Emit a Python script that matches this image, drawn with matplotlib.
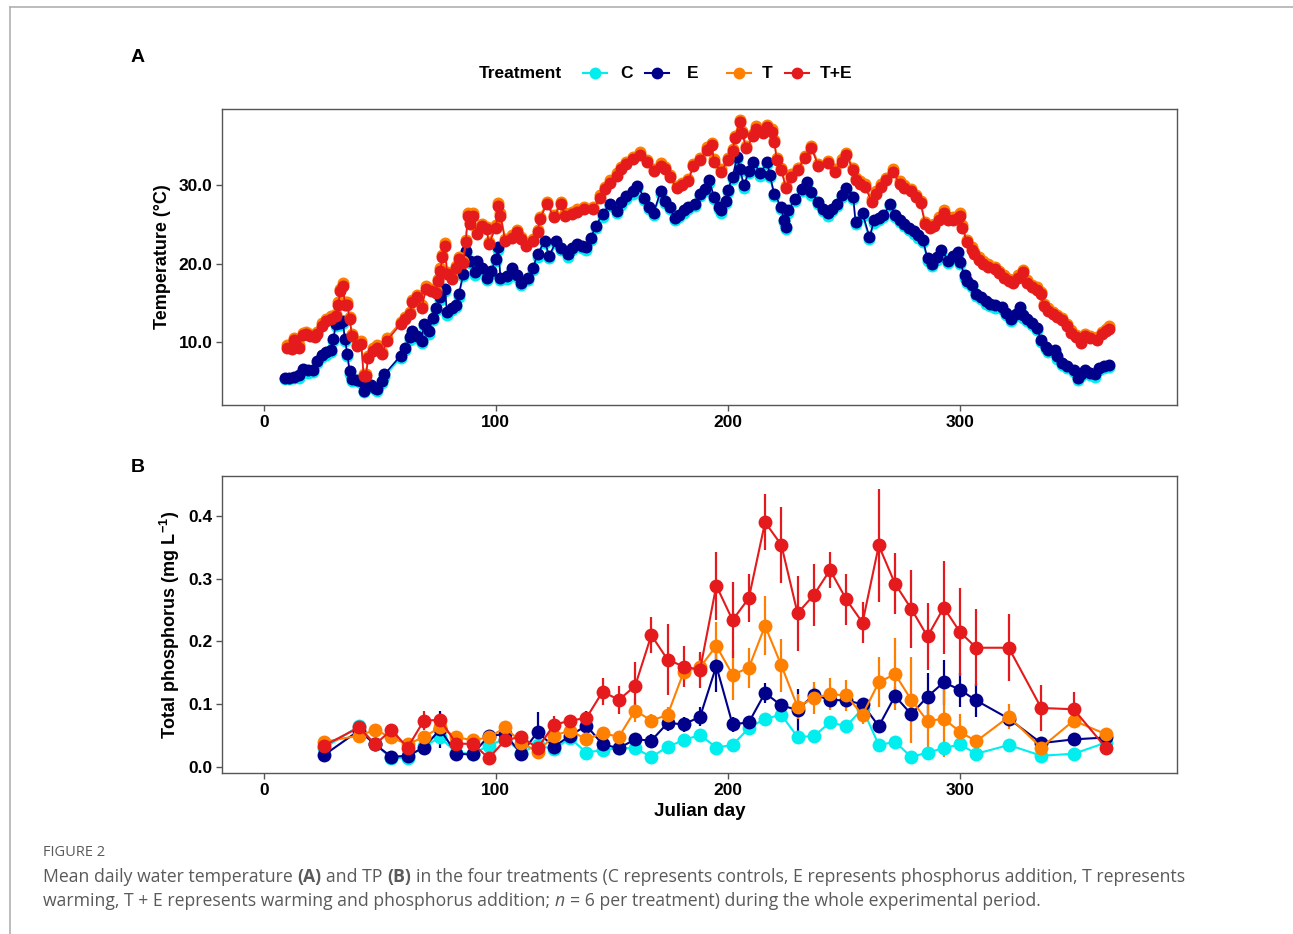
# water temperature (A) and total phosphorus (B) per treatment
import matplotlib
matplotlib.use("Agg")
import matplotlib.pyplot as plt
from matplotlib.lines import Line2D

plt.rcParams["font.family"] = ["Liberation Sans", "DejaVu Sans"]
plt.rcParams["mathtext.fontset"] = "custom"
plt.rcParams["mathtext.rm"] = "Liberation Sans"
plt.rcParams["mathtext.bf"] = "Liberation Sans:bold"

treatments = ["C", "E", "T", "T+E"]
colors = ["#00EEEE", "#00008B", "#FF7F00", "#E41A1C"]

# ---- panel A: daily mean temperature ----
days_E = [9, 11, 13, 15, 17, 19, 21, 23, 25, 27,
          29, 30, 31, 33, 34, 35, 36, 37, 38, 40,
          42, 43, 45, 46, 48, 49, 51, 52, 59, 61,
          63, 64, 66, 68, 69, 71, 73, 74, 76, 78,
          79, 81, 83, 84, 86, 87, 89, 91, 92, 94,
          96, 98, 100, 101, 102, 105, 107, 109, 111, 114,
          116, 118, 121, 123, 126, 128, 131, 133, 135, 137,
          139, 141, 143, 146, 149, 152, 154, 156, 159, 161,
          164, 166, 168, 171, 173, 175, 177, 179, 181, 183,
          186, 188, 190, 192, 194, 196, 197, 199, 200, 202,
          204, 205, 207, 209, 211, 214, 217, 218, 220, 223,
          224, 225, 226, 229, 232, 234, 236, 239, 241, 243,
          245, 247, 249, 251, 254, 255, 258, 261, 263, 265,
          267, 270, 272, 274, 276, 278, 280, 282, 284, 286,
          288, 290, 292, 295, 297, 299, 300, 302, 303, 305,
          307, 309, 311, 313, 315, 318, 320, 322, 324, 326,
          327, 329, 331, 333, 335, 337, 338, 341, 342, 344,
          346, 349, 351, 352, 354, 356, 358, 360, 362, 364]
temp_E = [5.5, 5.5, 5.6, 5.8, 6.6, 6.4, 6.4, 7.6, 8.4, 8.7,
          9.0, 10.4, 12.3, 12.5, 12.7, 10.4, 8.5, 6.3, 5.3, 5.2,
          5.1, 3.8, 4.5, 4.6, 4.2, 4.0, 5.1, 5.9, 8.3, 9.3,
          10.6, 11.4, 10.8, 10.2, 12.3, 11.4, 13.1, 14.4, 15.7, 16.8,
          13.8, 14.4, 14.8, 16.1, 18.7, 21.6, 20.4, 18.9, 20.4, 19.5,
          18.2, 19.1, 20.6, 22.1, 18.2, 18.4, 19.5, 18.6, 17.6, 18.2,
          19.5, 21.2, 22.9, 21.0, 22.9, 22.0, 21.2, 22.0, 22.5, 22.3,
          22.1, 23.3, 24.8, 26.3, 27.6, 26.7, 27.8, 28.6, 29.2, 29.9,
          28.4, 27.2, 26.5, 29.2, 28.0, 27.2, 25.8, 26.2, 26.8, 27.2,
          27.6, 28.9, 29.5, 30.6, 28.5, 27.2, 26.8, 28.0, 29.4, 31.1,
          33.6, 32.1, 30.0, 31.8, 33.0, 31.5, 33.0, 31.3, 28.9, 27.2,
          25.6, 24.7, 26.8, 28.3, 29.5, 30.4, 29.1, 27.9, 27.0, 26.4,
          27.0, 27.6, 28.8, 29.6, 28.5, 25.3, 26.4, 23.4, 25.5, 25.8,
          26.2, 27.6, 26.2, 25.6, 25.1, 24.6, 24.1, 23.6, 23.0, 20.7,
          20.0, 20.8, 21.7, 20.4, 21.0, 21.5, 20.2, 18.5, 17.8, 17.3,
          16.2, 15.8, 15.2, 14.9, 14.7, 14.5, 13.7, 13.0, 13.6, 14.5,
          13.4, 13.0, 12.5, 11.8, 10.3, 9.4, 9.0, 9.0, 8.2, 7.4,
          7.0, 6.5, 5.5, 6.0, 6.5, 6.1, 5.9, 6.7, 7.0, 7.1]
temp_C = [5.3, 5.3, 5.4, 5.5, 6.3, 6.1, 6.2, 7.3, 8.1, 8.4,
          8.7, 10.1, 12.0, 12.2, 12.4, 10.1, 8.2, 6.0, 5.0, 5.0,
          4.8, 3.6, 4.2, 4.3, 4.0, 3.8, 4.8, 5.6, 8.0, 9.0,
          10.3, 11.1, 10.5, 9.9, 12.0, 11.1, 12.8, 14.1, 15.4, 16.5,
          13.5, 14.1, 14.5, 15.8, 18.4, 21.3, 20.1, 18.6, 20.1, 19.2,
          17.9, 18.8, 20.3, 21.8, 17.9, 18.1, 19.2, 18.3, 17.3, 17.9,
          19.2, 20.9, 22.6, 20.7, 22.6, 21.7, 20.9, 21.7, 22.2, 22.0,
          21.8, 23.0, 24.5, 26.0, 27.3, 26.4, 27.5, 28.3, 28.9, 29.6,
          28.1, 26.9, 26.2, 28.9, 27.7, 26.9, 25.5, 25.9, 26.5, 26.9,
          27.3, 28.6, 29.2, 30.3, 28.2, 26.9, 26.5, 27.7, 29.1, 30.8,
          33.3, 31.8, 29.7, 31.5, 32.7, 31.2, 32.7, 31.0, 28.6, 26.9,
          25.3, 24.4, 26.5, 28.0, 29.2, 30.1, 28.8, 27.6, 26.7, 26.1,
          26.7, 27.3, 28.5, 29.3, 28.2, 25.0, 26.1, 23.1, 25.2, 25.5,
          25.9, 27.3, 25.9, 25.3, 24.8, 24.3, 23.8, 23.3, 22.7, 20.4,
          19.7, 20.5, 21.4, 20.1, 20.7, 21.2, 19.9, 18.2, 17.5, 17.0,
          15.9, 15.5, 14.9, 14.6, 14.4, 14.2, 13.4, 12.7, 13.3, 14.2,
          13.1, 12.7, 12.2, 11.5, 10.0, 9.1, 8.7, 8.7, 7.9, 7.1,
          6.7, 6.2, 5.2, 5.7, 6.2, 5.8, 5.6, 6.4, 6.7, 6.8]

days_TE = [10, 12, 13, 15, 17, 18, 20, 22, 23, 25,
           27, 29, 31, 32, 33, 34, 35, 36, 37, 38,
           40, 42, 43, 44, 45, 47, 49, 51, 53, 59,
           61, 63, 64, 66, 68, 70, 72, 74, 75, 76,
           77, 78, 79, 81, 83, 84, 86, 87, 88, 89,
           90, 92, 94, 96, 97, 100, 101, 102, 104, 107,
           109, 111, 113, 116, 118, 119, 122, 125, 128, 130,
           133, 135, 138, 142, 145, 147, 149, 152, 154, 156,
           159, 162, 165, 168, 171, 173, 175, 178, 180, 183,
           185, 188, 191, 193, 194, 197, 200, 202, 203, 205,
           206, 208, 211, 212, 215, 217, 219, 220, 221, 223,
           225, 227, 230, 233, 236, 239, 243, 246, 249, 251,
           254, 255, 257, 259, 262, 264, 266, 268, 271, 274,
           276, 279, 281, 283, 285, 287, 289, 291, 293, 295,
           297, 299, 300, 301, 303, 305, 306, 308, 310, 312,
           315, 317, 319, 321, 323, 325, 327, 329, 331, 333,
           335, 336, 338, 340, 342, 344, 346, 348, 350, 352,
           354, 356, 359, 361, 363, 364]
temp_TE = [9.3, 9.1, 10.3, 9.3, 10.9, 11.0, 10.8, 10.6, 11.0, 12.1,
           12.7, 13.0, 13.3, 14.8, 16.5, 17.2, 14.8, 14.8, 12.9, 10.8,
           9.5, 9.8, 5.7, 5.7, 8.0, 8.9, 9.3, 8.5, 10.2, 12.3,
           12.9, 13.6, 15.1, 15.7, 14.4, 16.8, 16.5, 16.3, 17.8, 19.1,
           20.8, 22.3, 18.7, 18.0, 19.4, 20.6, 20.1, 22.7, 26.1, 25.0,
           26.1, 23.8, 24.8, 24.4, 22.5, 24.6, 27.4, 26.1, 22.9, 23.3,
           24.0, 23.1, 22.3, 22.9, 24.0, 25.7, 27.6, 25.9, 27.6, 26.1,
           26.3, 26.6, 26.9, 26.9, 28.4, 29.5, 30.3, 31.2, 32.0, 32.7,
           33.3, 33.9, 32.9, 31.8, 32.5, 32.0, 31.0, 29.6, 30.0, 30.5,
           32.4, 33.2, 34.5, 35.1, 33.0, 31.7, 33.2, 34.3, 36.0, 38.0,
           36.6, 34.7, 36.2, 37.2, 36.6, 37.4, 36.8, 35.5, 33.2, 31.9,
           29.6, 31.1, 31.9, 33.4, 34.7, 32.4, 32.8, 31.7, 33.0, 33.8,
           31.9, 30.6, 30.2, 29.8, 27.9, 28.9, 29.8, 30.6, 31.7, 30.2,
           29.7, 29.2, 28.5, 27.7, 25.0, 24.6, 24.8, 25.6, 26.5, 25.6,
           25.6, 25.8, 26.1, 24.6, 22.7, 21.8, 21.2, 20.5, 20.0, 19.6,
           19.3, 18.8, 18.2, 17.8, 17.6, 18.2, 18.9, 17.6, 17.0, 16.7,
           16.1, 14.6, 14.0, 13.6, 13.2, 12.8, 12.0, 11.2, 10.6, 9.9,
           10.8, 10.5, 10.3, 11.0, 11.4, 11.7]
temp_T = [9.6, 9.4, 10.5, 9.6, 11.2, 11.3, 11.1, 10.9, 11.3, 12.4,
          13.0, 13.3, 13.6, 15.1, 16.8, 17.5, 15.1, 15.1, 13.2, 11.1,
          9.8, 10.1, 6.0, 6.0, 8.3, 9.2, 9.6, 8.8, 10.5, 12.6,
          13.2, 13.9, 15.4, 16.0, 14.7, 17.1, 16.8, 16.6, 18.1, 19.4,
          21.1, 22.6, 19.0, 18.3, 19.7, 20.9, 20.4, 23.0, 26.4, 25.3,
          26.4, 24.1, 25.1, 24.7, 22.8, 24.9, 27.7, 26.4, 23.2, 23.6,
          24.3, 23.4, 22.6, 23.2, 24.3, 26.0, 27.9, 26.2, 27.9, 26.4,
          26.6, 26.9, 27.2, 27.2, 28.7, 29.8, 30.6, 31.5, 32.3, 33.0,
          33.6, 34.2, 33.2, 32.1, 32.8, 32.3, 31.3, 29.9, 30.3, 30.8,
          32.7, 33.5, 34.8, 35.4, 33.3, 32.0, 33.5, 34.6, 36.3, 38.3,
          36.9, 35.0, 36.5, 37.5, 36.9, 37.7, 37.1, 35.8, 33.5, 32.2,
          29.9, 31.4, 32.2, 33.7, 35.0, 32.7, 33.1, 32.0, 33.3, 34.1,
          32.2, 30.9, 30.5, 30.1, 28.2, 29.2, 30.1, 30.9, 32.0, 30.5,
          30.0, 29.5, 28.8, 28.0, 25.3, 24.9, 25.1, 25.9, 26.8, 25.9,
          25.9, 26.1, 26.4, 24.9, 23.0, 22.1, 21.5, 20.8, 20.3, 19.9,
          19.6, 19.1, 18.5, 18.1, 17.9, 18.5, 19.2, 17.9, 17.3, 17.0,
          16.4, 14.9, 14.3, 13.9, 13.5, 13.1, 12.3, 11.5, 10.9, 10.2,
          11.1, 10.8, 10.6, 11.3, 11.7, 12.0]

# ---- panel B: total phosphorus, mean and error ----
tp_days = [26, 41, 48, 55, 62, 69, 76, 83, 90, 97, 104, 111, 118, 125, 132,
           139, 146, 153, 160, 167, 174, 181, 188, 195, 202, 209, 216, 223,
           230, 237, 244, 251, 258, 265, 272, 279, 286, 293, 300, 307, 321,
           335, 349, 363]
tp_C = [0.030, 0.065, 0.036, 0.014, 0.015, 0.033, 0.047, 0.023, 0.021, 0.034,
        0.045, 0.023, 0.035, 0.028, 0.046, 0.023, 0.027, 0.030, 0.030, 0.016,
        0.032, 0.043, 0.051, 0.031, 0.035, 0.062, 0.077, 0.083, 0.048, 0.049,
        0.071, 0.065, 0.093, 0.035, 0.040, 0.016, 0.023, 0.030, 0.036, 0.021,
        0.035, 0.018, 0.021, 0.039]
tp_E = [0.019, 0.058, 0.036, 0.016, 0.018, 0.031, 0.060, 0.021, 0.020, 0.050,
        0.052, 0.021, 0.056, 0.032, 0.050, 0.066, 0.036, 0.030, 0.044, 0.042,
        0.070, 0.068, 0.080, 0.161, 0.068, 0.071, 0.118, 0.098, 0.091, 0.115,
        0.107, 0.106, 0.100, 0.065, 0.113, 0.084, 0.112, 0.135, 0.123, 0.106,
        0.077, 0.038, 0.044, 0.047]
tp_T = [0.040, 0.050, 0.059, 0.047, 0.036, 0.048, 0.063, 0.047, 0.043, 0.047,
        0.063, 0.039, 0.024, 0.050, 0.058, 0.044, 0.054, 0.048, 0.090, 0.074,
        0.083, 0.152, 0.159, 0.193, 0.147, 0.158, 0.225, 0.162, 0.096, 0.110,
        0.116, 0.114, 0.083, 0.135, 0.148, 0.107, 0.073, 0.077, 0.056, 0.041,
        0.080, 0.031, 0.074, 0.052]
tp_TE = [0.034, 0.063, 0.036, 0.059, 0.031, 0.074, 0.075, 0.037, 0.037, 0.014,
         0.043, 0.048, 0.030, 0.067, 0.074, 0.078, 0.120, 0.107, 0.129, 0.210,
         0.171, 0.160, 0.155, 0.289, 0.234, 0.269, 0.390, 0.354, 0.245, 0.274,
         0.314, 0.267, 0.230, 0.353, 0.292, 0.252, 0.208, 0.254, 0.215, 0.190,
         0.190, 0.094, 0.092, 0.030]
se_C = [0.005, 0.005, 0.004, 0.004, 0.004, 0.005, 0.008, 0.004, 0.004, 0.005,
        0.005, 0.004, 0.005, 0.004, 0.005, 0.004, 0.004, 0.004, 0.004, 0.004,
        0.005, 0.005, 0.006, 0.005, 0.005, 0.006, 0.008, 0.008, 0.005, 0.005,
        0.006, 0.006, 0.008, 0.005, 0.005, 0.004, 0.004, 0.005, 0.005, 0.004,
        0.005, 0.004, 0.004, 0.005]
se_E = [0.005, 0.008, 0.005, 0.005, 0.005, 0.008, 0.029, 0.005, 0.005, 0.008,
        0.010, 0.005, 0.032, 0.008, 0.010, 0.024, 0.008, 0.008, 0.010, 0.010,
        0.012, 0.012, 0.015, 0.041, 0.012, 0.010, 0.016, 0.010, 0.033, 0.012,
        0.010, 0.012, 0.010, 0.010, 0.015, 0.012, 0.037, 0.036, 0.027, 0.027,
        0.008, 0.008, 0.008, 0.008]
se_T = [0.005, 0.005, 0.005, 0.005, 0.005, 0.008, 0.008, 0.005, 0.005, 0.005,
        0.008, 0.005, 0.005, 0.008, 0.008, 0.008, 0.008, 0.008, 0.019, 0.010,
        0.012, 0.015, 0.020, 0.038, 0.040, 0.032, 0.047, 0.042, 0.020, 0.025,
        0.025, 0.025, 0.015, 0.040, 0.057, 0.068, 0.048, 0.061, 0.028, 0.010,
        0.020, 0.010, 0.008, 0.005]
se_TE = [0.005, 0.008, 0.005, 0.008, 0.005, 0.015, 0.010, 0.008, 0.005, 0.005,
         0.008, 0.010, 0.008, 0.014, 0.008, 0.010, 0.021, 0.022, 0.038, 0.029,
         0.057, 0.033, 0.029, 0.054, 0.060, 0.038, 0.045, 0.061, 0.060, 0.050,
         0.029, 0.040, 0.033, 0.090, 0.049, 0.062, 0.053, 0.074, 0.070, 0.061,
         0.053, 0.037, 0.027, 0.005]

W, H = 1293, 934
fig = plt.figure(figsize=(W / 100, H / 100), dpi=100)
fig.patch.set_facecolor("white")


def fx(px):
    return px / W


def fy(py):
    return 1 - py / H


axA = fig.add_axes([fx(222), fy(405), fx(1177) - fx(222), fy(109) - fy(405)])
axB = fig.add_axes([fx(222), fy(773), fx(1177) - fx(222), fy(476) - fy(773)])

temp_series = [(days_E, temp_C), (days_E, temp_E), (days_TE, temp_T), (days_TE, temp_TE)]
for (d, t), col in zip(temp_series, colors):
    axA.plot(d, t, "-o", color=col, lw=1.2, ms=8.6, mew=0)

tp_series = [(tp_C, se_C), (tp_E, se_E), (tp_T, se_T), (tp_TE, se_TE)]
for (v, s), col in zip(tp_series, colors):
    axB.errorbar(tp_days, v, yerr=s, fmt="-o", color=col, lw=1.5, ms=10,
                 mew=0, elinewidth=1.6, capsize=0)

axA.set_xlim(-18, 393.5)
axA.set_ylim(2.0, 39.7)
axA.set_yticks([10, 20, 30])
axA.set_yticklabels(["10.0", "20.0", "30.0"])
axB.set_xlim(-18, 393.5)
axB.set_ylim(-0.0096, 0.4637)
axB.set_yticks([0.0, 0.1, 0.2, 0.3, 0.4])
axB.set_yticklabels(["0.0", "0.1", "0.2", "0.3", "0.4"])

for ax in (axA, axB):
    ax.set_xticks([0, 100, 200, 300])
    for sp in ax.spines.values():
        sp.set_color("#555555")
        sp.set_linewidth(1.0)
    ax.tick_params(length=4, width=1.0, color="#555555", labelsize=12.5,
                   labelcolor="black", pad=3)
    for lab in ax.get_xticklabels() + ax.get_yticklabels():
        lab.set_fontweight("bold")

axA.set_ylabel("Temperature (°C)", fontsize=13, fontweight="bold", labelpad=5)
axB.set_ylabel(r"Total phosphorus (mg L$^{\mathbf{-1}}$)", fontsize=13,
               fontweight="bold", labelpad=4)
axB.set_xlabel("Julian day", fontsize=13.5, fontweight="bold", labelpad=4)

fig.text(fx(131), fy(57), "A", fontsize=14, fontweight="bold", va="center")
fig.text(fx(131), fy(467), "B", fontsize=14, fontweight="bold", va="center")

# legend above panel A
fig.text(fx(479), fy(73), "Treatment", fontsize=12.5, fontweight="bold", va="center")
key_x = [583, 645, 727, 785]
lab_x = [620, 687, 762, 820]
for kx, lx, name, col in zip(key_x, lab_x, treatments, colors):
    fig.add_artist(Line2D([fx(kx), fx(kx + 24)], [fy(73), fy(73)], color=col,
                          lw=1.5, transform=fig.transFigure))
    fig.add_artist(Line2D([fx(kx + 12)], [fy(73)], color=col, marker="o",
                          ms=8.5, mew=0, transform=fig.transFigure))
    fig.text(fx(lx), fy(73), name, fontsize=12.5, fontweight="bold", va="center")

# page frame lines
fig.add_artist(Line2D([fx(10), 1], [fy(7), fy(7)], color="#b0b0b0", lw=1.2,
                      transform=fig.transFigure))
fig.add_artist(Line2D([fx(10), fx(10)], [fy(7), 0], color="#b0b0b0", lw=1.2,
                      transform=fig.transFigure))

# caption
cap_col = "#5a5a5a"
fig.text(fx(43), fy(853), "FIGURE 2", fontsize=10.5, color=cap_col, va="center",
         family="Open Sans")

renderer = fig.canvas.get_renderer()


def rich_line(x_px, y_px, pieces, size=12.7):
    probe1 = fig.text(0, 0, "x x", fontsize=size, family="Open Sans")
    probe2 = fig.text(0, 0, "xx", fontsize=size, family="Open Sans")
    space = probe1.get_window_extent(renderer).width - probe2.get_window_extent(renderer).width
    probe1.remove()
    probe2.remove()
    x = x_px
    for s, weight, style in pieces:
        lead = len(s) - len(s.lstrip(" "))
        trail = len(s) - len(s.rstrip(" "))
        x += lead * space
        t = fig.text(fx(x), fy(y_px), s.strip(), fontsize=size, color=cap_col,
                     fontweight=weight, fontstyle=style, family="Open Sans",
                     va="center")
        x += t.get_window_extent(renderer).width + trail * space


rich_line(43, 877, [
    ("Mean daily water temperature ", "normal", "normal"),
    ("(A)", "bold", "normal"),
    (" and TP ", "normal", "normal"),
    ("(B)", "bold", "normal"),
    (" in the four treatments (C represents controls, E represents phosphorus addition, T represents",
     "normal", "normal"),
])
rich_line(43, 901, [
    ("warming, T + E represents warming and phosphorus addition; ", "normal", "normal"),
    ("n", "normal", "italic"),
    (" = 6 per treatment) during the whole experimental period.", "normal", "normal"),
])

fig.savefig("out.png", dpi=100)
